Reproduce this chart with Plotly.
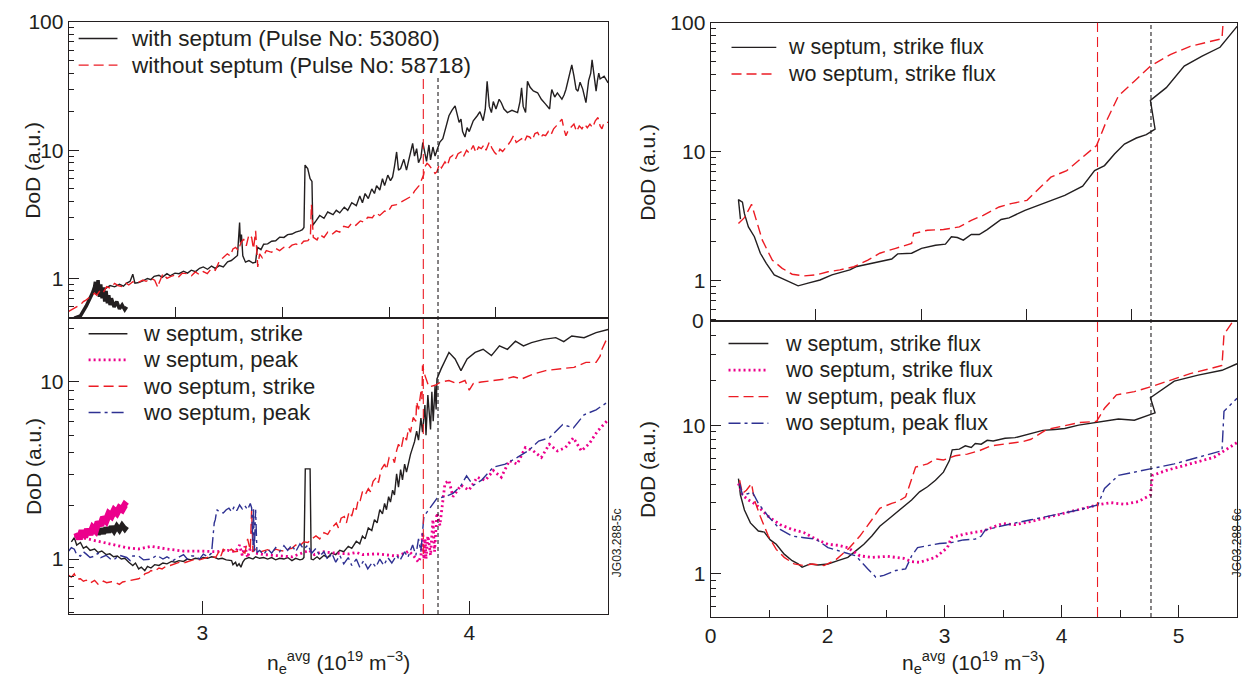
import numpy as np
import plotly.graph_objects as go

# ---------------------------------------------------------------
# DATA
# ---------------------------------------------------------------
# top-left : DoD vs <ne>, pulse 53080 (with septum) / 58718 (without)
tl_w_blob_x = [2.521, 2.544, 2.566, 2.580, 2.589, 2.597, 2.600, 2.605, 2.610, 2.615, 2.620, 2.625,
               2.630, 2.635, 2.640, 2.645, 2.650, 2.655, 2.660, 2.670, 2.680, 2.690, 2.700, 2.710, 2.717]
tl_w_blob_y = [0.49, 0.51, 0.61, 0.70, 0.77, 0.86, 0.94, 0.75, 0.97, 0.72, 0.90, 0.70,
               0.85, 0.66, 0.80, 0.64, 0.74, 0.62, 0.70, 0.60, 0.66, 0.58, 0.62, 0.57, 0.60]
tl_w_x = [2.624, 2.640, 2.655, 2.672, 2.690, 2.705, 2.717, 2.730, 2.740, 2.748, 2.762, 2.780, 2.795,
          2.808, 2.820, 2.838, 2.850, 2.868, 2.880, 2.898, 2.913, 2.930, 2.945, 2.959, 2.975, 2.990,
          3.004, 3.020, 3.035, 3.049, 3.064, 3.079, 3.095, 3.109, 3.120, 3.132, 3.140, 3.143, 3.147,
          3.152, 3.162, 3.175, 3.190, 3.200, 3.204, 3.208, 3.220, 3.230, 3.245, 3.260, 3.275, 3.290,
          3.306, 3.320, 3.336, 3.350, 3.366, 3.375, 3.381, 3.385, 3.395, 3.404, 3.411, 3.414, 3.426,
          3.440, 3.456, 3.470, 3.490, 3.502, 3.515, 3.532, 3.545, 3.560, 3.577, 3.590, 3.600, 3.610,
          3.622, 3.635, 3.645, 3.653, 3.665, 3.675, 3.683, 3.695, 3.705, 3.713, 3.720, 3.728, 3.735,
          3.743, 3.755, 3.765, 3.773, 3.788, 3.795, 3.803, 3.810, 3.819, 3.826, 3.834, 3.840, 3.849,
          3.855, 3.864, 3.872, 3.879, 3.890, 3.901, 3.912, 3.924, 3.935, 3.947, 3.955, 3.962, 3.969,
          3.975, 3.984, 3.992, 4.000, 4.015, 4.030, 4.040, 4.052, 4.060, 4.067, 4.075, 4.083, 4.090,
          4.100, 4.112, 4.120, 4.130, 4.143, 4.160, 4.181, 4.190, 4.196, 4.202, 4.211, 4.218, 4.228,
          4.240, 4.256, 4.270, 4.285, 4.301, 4.305, 4.309, 4.320, 4.330, 4.347, 4.355, 4.362, 4.370,
          4.378, 4.384, 4.392, 4.400, 4.407, 4.415, 4.425, 4.437, 4.447, 4.455, 4.460, 4.468, 4.475,
          4.480, 4.485, 4.490, 4.505, 4.520]
tl_w_y = [0.80, 0.84, 0.88, 0.86, 0.90, 0.87, 0.92, 0.95, 1.08, 0.92, 0.93, 0.96, 1.00,
          0.98, 1.04, 1.06, 1.02, 1.09, 1.05, 1.10, 1.09, 1.14, 1.10, 1.16, 1.13, 1.20,
          1.23, 1.18, 1.25, 1.20, 1.26, 1.23, 1.35, 1.38, 1.45, 1.51, 2.73, 1.90, 2.20,
          1.50, 1.34, 1.38, 1.32, 1.34, 1.60, 1.75, 1.68, 1.85, 1.86, 1.95, 1.97, 2.10,
          2.09, 2.20, 2.22, 2.30, 2.35, 2.40, 2.50, 7.67, 7.20, 6.00, 5.71, 2.60, 2.81,
          3.10, 2.95, 3.30, 3.15, 3.40, 3.25, 3.60, 3.40, 3.90, 3.70, 4.40, 3.90, 4.60,
          4.20, 5.00, 4.60, 5.30, 4.90, 6.00, 5.30, 6.40, 5.80, 6.20, 7.50, 9.70, 7.00,
          7.20, 8.50, 7.00, 8.30, 11.3, 9.00, 10.3, 8.00, 8.80, 11.5, 9.20, 8.20, 11.0,
          8.40, 10.6, 9.00, 10.0, 11.6, 12.3, 15.0, 18.6, 20.5, 22.2, 19.0, 16.5, 17.5,
          14.0, 12.7, 15.0, 14.0, 17.0, 18.6, 20.0, 17.0, 20.9, 34.5, 22.0, 19.7, 24.0,
          21.0, 25.0, 23.5, 21.0, 19.7, 20.5, 19.7, 24.0, 30.7, 22.0, 19.7, 34.5, 31.0,
          29.0, 28.1, 25.0, 23.0, 21.0, 26.0, 29.8, 26.0, 28.0, 25.0, 27.0, 29.8, 35.0,
          40.0, 46.4, 38.0, 30.0, 28.9, 34.0, 30.0, 23.5, 35.0, 40.0, 50.7, 38.0, 28.9,
          35.0, 40.0, 36.0, 37.8, 33.5]
tl_wo_x = [2.500, 2.511, 2.521, 2.530, 2.544, 2.555, 2.566, 2.580, 2.597, 2.605, 2.619, 2.630, 2.642,
           2.655, 2.672, 2.685, 2.702, 2.715, 2.725, 2.740, 2.755, 2.778, 2.790, 2.808, 2.822, 2.834,
           2.838, 2.853, 2.868, 2.883, 2.898, 2.910, 2.925, 2.944, 2.960, 2.974, 2.990, 3.004, 3.019,
           3.035, 3.049, 3.060, 3.064, 3.078, 3.094, 3.105, 3.115, 3.125, 3.135, 3.145, 3.155, 3.165,
           3.175, 3.185, 3.192, 3.200, 3.205, 3.208, 3.215, 3.225, 3.240, 3.260, 3.275, 3.290, 3.306,
           3.320, 3.336, 3.351, 3.365, 3.380, 3.396, 3.405, 3.409, 3.413, 3.416, 3.430, 3.440, 3.456,
           3.470, 3.485, 3.502, 3.515, 3.530, 3.547, 3.560, 3.575, 3.592, 3.605, 3.620, 3.637, 3.650,
           3.665, 3.683, 3.695, 3.710, 3.728, 3.740, 3.755, 3.773, 3.785, 3.795, 3.803, 3.812, 3.819,
           3.825, 3.829, 3.834, 3.842, 3.849, 3.860, 3.872, 3.879, 3.888, 3.896, 3.909, 3.918, 3.928,
           3.939, 3.948, 3.958, 3.969, 3.978, 3.990, 4.000, 4.015, 4.025, 4.035, 4.045, 4.055, 4.063,
           4.075, 4.085, 4.095, 4.105, 4.115, 4.125, 4.135, 4.145, 4.155, 4.166, 4.176, 4.186, 4.196,
           4.206, 4.216, 4.226, 4.236, 4.246, 4.256, 4.266, 4.276, 4.286, 4.296, 4.306, 4.316, 4.326,
           4.338, 4.347, 4.355, 4.362, 4.372, 4.382, 4.392, 4.402, 4.412, 4.422, 4.432, 4.442, 4.452,
           4.462, 4.472, 4.482, 4.490, 4.497, 4.505, 4.520]
tl_wo_y = [0.554, 0.57, 0.588, 0.60, 0.624, 0.66, 0.681, 0.72, 0.767, 0.74, 0.813, 0.78, 0.863,
           0.84, 0.916, 0.88, 0.863, 0.92, 0.89, 0.943, 0.92, 0.971, 0.95, 1.00, 0.97, 0.85,
           0.916, 1.09, 1.00, 1.04, 1.06, 1.02, 1.10, 1.09, 1.05, 1.125, 1.07, 1.13, 1.09,
           1.20, 1.16, 1.30, 1.38, 1.45, 1.557, 1.50, 1.70, 1.75, 1.65, 1.90, 2.03, 1.80,
           2.20, 2.09, 1.70, 2.35, 1.50, 1.23, 1.557, 1.45, 1.65, 1.60, 1.72, 1.65, 1.75,
           1.70, 1.82, 1.86, 1.80, 1.95, 1.97, 2.10, 3.77, 2.40, 2.09, 2.00, 2.20, 2.09,
           2.30, 2.20, 2.35, 2.30, 2.55, 2.50, 2.70, 2.60, 2.81, 2.75, 3.00, 2.98, 3.25,
           3.10, 3.36, 3.30, 3.70, 3.77, 3.90, 4.10, 4.25, 4.40, 4.80, 5.07, 5.30, 5.71,
           6.20, 6.42, 7.44, 7.90, 7.67, 7.20, 6.60, 6.81, 7.80, 7.30, 8.13, 7.60, 8.80,
           9.15, 8.50, 9.40, 9.71, 8.90, 10.0, 9.50, 10.9, 9.60, 10.6, 10.3, 11.0, 10.0,
           11.6, 10.4, 9.60, 9.15, 10.2, 9.80, 10.3, 11.0, 11.8, 13.0, 11.5, 12.0, 12.3,
           11.6, 12.9, 12.7, 12.0, 13.5, 13.8, 12.5, 13.2, 13.0, 14.0, 13.2, 14.7, 15.5,
           16.5, 17.5, 14.5, 13.0, 14.5, 15.3, 16.0, 14.0, 15.5, 14.7, 16.0, 15.0, 16.0,
           15.0, 17.0, 18.0, 15.5, 14.7, 16.5, 16.5]

# bottom-left : strike / peak, with and without septum
bl_ws_x = [2.510, 2.521, 2.530, 2.544, 2.555, 2.566, 2.580, 2.597, 2.610, 2.624, 2.640, 2.654, 2.668,
           2.682, 2.697, 2.710, 2.725, 2.740, 2.750, 2.762, 2.772, 2.785, 2.795, 2.808, 2.822, 2.838,
           2.853, 2.868, 2.885, 2.898, 2.913, 2.930, 2.944, 2.959, 2.974, 2.990, 3.004, 3.020, 3.035,
           3.049, 3.060, 3.075, 3.090, 3.110, 3.115, 3.125, 3.130, 3.138, 3.145, 3.152, 3.160, 3.175,
           3.190, 3.200, 3.215, 3.230, 3.245, 3.260, 3.275, 3.290, 3.306, 3.320, 3.336, 3.350, 3.366,
           3.376, 3.381, 3.386, 3.404, 3.408, 3.416, 3.430, 3.440, 3.456, 3.470, 3.485, 3.500, 3.515,
           3.530, 3.547, 3.560, 3.577, 3.590, 3.600, 3.610, 3.622, 3.635, 3.645, 3.655, 3.665, 3.675,
           3.683, 3.690, 3.698, 3.705, 3.713, 3.720, 3.728, 3.735, 3.743, 3.750, 3.758, 3.765, 3.773,
           3.780, 3.788, 3.795, 3.803, 3.810, 3.819, 3.825, 3.834, 3.838, 3.845, 3.849, 3.855, 3.860,
           3.865, 3.872, 3.876, 3.879, 3.895, 3.924, 3.947, 3.969, 3.992, 4.022, 4.052, 4.083, 4.113,
           4.143, 4.173, 4.203, 4.233, 4.279, 4.324, 4.354, 4.384, 4.430, 4.475, 4.520]
bl_ws_y = [1.25, 1.32, 1.20, 1.24, 1.15, 1.18, 1.12, 1.14, 1.09, 1.11, 1.06, 1.07, 1.03,
           1.04, 1.00, 1.01, 0.96, 0.92, 0.95, 0.88, 0.90, 0.86, 0.91, 0.89, 0.93, 0.92,
           0.95, 0.94, 0.97, 0.96, 0.98, 0.97, 1.00, 0.99, 1.01, 1.00, 1.02, 1.01, 1.03,
           1.02, 1.00, 1.01, 0.99, 0.98, 0.93, 0.96, 0.91, 0.94, 0.90, 0.96, 1.00, 1.02,
           1.00, 1.03, 1.01, 1.02, 1.00, 1.02, 0.99, 1.01, 1.00, 1.02, 0.98, 1.01, 0.99,
           1.00, 1.02, 3.23, 3.23, 1.00, 0.99, 1.03, 1.00, 1.05, 1.02, 1.08, 1.06, 1.12,
           1.10, 1.18, 1.15, 1.26, 1.22, 1.35, 1.30, 1.50, 1.45, 1.67, 1.60, 1.90, 1.80,
           2.06, 1.90, 2.25, 2.10, 2.45, 2.30, 3.03, 2.55, 3.20, 2.80, 3.44, 3.10, 3.59,
           3.90, 4.26, 4.60, 5.27, 4.70, 6.25, 5.20, 7.42, 5.00, 8.43, 6.81, 5.40, 8.80,
           6.00, 9.50, 7.00, 10.4, 11.9, 14.7, 13.5, 11.6, 13.5, 14.7, 15.3, 14.1, 16.0,
           15.3, 17.0, 16.0, 16.7, 17.4, 17.8, 16.9, 18.2, 17.8, 19.0, 19.8]
bl_ws_blob_x = [2.604, 2.610, 2.620, 2.630, 2.640, 2.650, 2.660, 2.670, 2.680, 2.690, 2.700, 2.710, 2.717]
bl_ws_blob_y = [1.45, 1.38, 1.48, 1.40, 1.50, 1.42, 1.52, 1.44, 1.53, 1.46, 1.55, 1.48, 1.53]

bl_wp_blob_x = [2.530, 2.540, 2.550, 2.560, 2.570, 2.580, 2.590, 2.600, 2.610, 2.620, 2.630, 2.640,
                2.650, 2.660, 2.670, 2.680, 2.690, 2.700, 2.710, 2.717]
bl_wp_blob_y = [1.41, 1.30, 1.45, 1.33, 1.47, 1.38, 1.50, 1.45, 1.62, 1.55, 1.72, 1.65,
                1.80, 1.75, 1.88, 1.82, 1.94, 1.90, 2.02, 1.98]
bl_wp_x = [2.521, 2.550, 2.600, 2.640, 2.672, 2.717, 2.762, 2.808, 2.868, 2.930, 2.990, 3.050, 3.095,
           3.125, 3.140, 3.150, 3.160, 3.170, 3.180, 3.200, 3.230, 3.275, 3.336, 3.366, 3.400, 3.420,
           3.450, 3.500, 3.550, 3.577, 3.600, 3.653, 3.700, 3.728, 3.760, 3.773, 3.790, 3.810, 3.819,
           3.826, 3.830, 3.835, 3.838, 3.845, 3.849, 3.855, 3.864, 3.870, 3.879, 3.890, 3.909, 3.924,
           3.939, 3.969, 3.999, 4.030, 4.060, 4.090, 4.120, 4.150, 4.180, 4.210, 4.240, 4.270, 4.300,
           4.330, 4.360, 4.390, 4.420, 4.450, 4.480, 4.520]
bl_wp_y = [1.35, 1.32, 1.27, 1.24, 1.21, 1.16, 1.14, 1.18, 1.14, 1.11, 1.11, 1.10, 1.12,
           1.10, 1.20, 1.05, 1.18, 1.02, 1.15, 1.08, 1.06, 1.05, 1.03, 1.07, 1.12, 1.06,
           1.10, 1.08, 1.07, 1.09, 1.06, 1.07, 1.05, 1.04, 1.08, 1.11, 1.05, 0.96, 1.04,
           1.41, 1.00, 1.30, 1.00, 1.35, 1.24, 1.05, 1.67, 1.10, 1.82, 1.55, 2.67, 2.78,
           2.25, 2.61, 2.45, 2.90, 2.78, 3.16, 2.90, 3.59, 3.44, 4.26, 4.08, 3.75, 4.45,
           4.08, 4.26, 4.84, 4.08, 4.50, 5.27, 6.12]

bl_wos_x = [2.500, 2.510, 2.521, 2.530, 2.544, 2.555, 2.566, 2.580, 2.597, 2.610, 2.619, 2.630, 2.642,
            2.660, 2.672, 2.690, 2.702, 2.720, 2.740, 2.755, 2.762, 2.780, 2.785, 2.800, 2.808, 2.820,
            2.838, 2.850, 2.868, 2.880, 2.913, 2.930, 2.974, 2.990, 3.035, 3.050, 3.064, 3.070, 3.079,
            3.095, 3.109, 3.120, 3.140, 3.160, 3.170, 3.180, 3.185, 3.190, 3.200, 3.220, 3.245, 3.260,
            3.275, 3.290, 3.306, 3.320, 3.336, 3.350, 3.366, 3.380, 3.396, 3.410, 3.426, 3.440, 3.456,
            3.470, 3.485, 3.502, 3.510, 3.520, 3.532, 3.540, 3.550, 3.560, 3.570, 3.577, 3.585, 3.592,
            3.600, 3.610, 3.622, 3.630, 3.640, 3.653, 3.660, 3.670, 3.683, 3.690, 3.700, 3.713, 3.720,
            3.728, 3.735, 3.745, 3.755, 3.765, 3.773, 3.780, 3.790, 3.800, 3.803, 3.810, 3.819, 3.823,
            3.825, 3.834, 3.849, 3.872, 3.894, 3.924, 3.954, 3.984, 4.000, 4.015, 4.045, 4.090, 4.135,
            4.166, 4.196, 4.241, 4.286, 4.347, 4.392, 4.437, 4.475, 4.490, 4.497, 4.520]
bl_wos_y = [0.808, 0.79, 0.825, 0.77, 0.774, 0.75, 0.76, 0.73, 0.758, 0.72, 0.726, 0.75, 0.735,
            0.745, 0.742, 0.72, 0.742, 0.75, 0.758, 0.77, 0.774, 0.80, 0.825, 0.84, 0.861, 0.85,
            0.89, 0.88, 0.918, 0.92, 0.958, 0.95, 1.00, 0.99, 1.04, 1.02, 1.11, 1.04, 1.137,
            1.10, 1.137, 1.10, 1.11, 1.08, 1.30, 1.12, 1.90, 1.10, 1.137, 1.10, 1.13, 1.10,
            1.137, 1.12, 1.11, 1.14, 1.15, 1.20, 1.186, 1.25, 1.24, 1.30, 1.35, 1.30, 1.41,
            1.38, 1.50, 1.60, 1.50, 1.70, 1.74, 1.60, 1.85, 1.75, 2.00, 1.90, 2.20, 2.15,
            2.40, 2.30, 2.50, 2.40, 2.75, 2.90, 2.70, 3.20, 3.44, 3.20, 3.75, 3.75, 3.50,
            4.10, 4.45, 4.20, 5.00, 4.70, 5.51, 5.20, 6.30, 6.00, 7.74, 7.00, 8.80, 8.00,
            12.4, 10.9, 9.38, 9.58, 10.0, 10.2, 9.79, 10.2, 9.00, 9.79, 10.0, 10.2, 10.4,
            10.7, 10.4, 11.1, 11.6, 11.9, 12.1, 12.9, 12.9, 14.0, 15.3, 18.2]

bl_wop_x = [2.500, 2.510, 2.521, 2.530, 2.544, 2.555, 2.566, 2.580, 2.597, 2.610, 2.620, 2.640, 2.660,
            2.672, 2.690, 2.717, 2.730, 2.740, 2.762, 2.780, 2.808, 2.830, 2.853, 2.868, 2.890, 2.913,
            2.930, 2.944, 2.960, 2.974, 2.990, 3.004, 3.020, 3.035, 3.040, 3.045, 3.049, 3.055, 3.064,
            3.079, 3.090, 3.100, 3.110, 3.120, 3.130, 3.140, 3.150, 3.160, 3.170, 3.180, 3.185, 3.190,
            3.192, 3.195, 3.200, 3.205, 3.215, 3.230, 3.245, 3.260, 3.275, 3.290, 3.306, 3.320, 3.336,
            3.350, 3.366, 3.380, 3.396, 3.410, 3.426, 3.440, 3.456, 3.470, 3.485, 3.500, 3.515, 3.530,
            3.547, 3.560, 3.577, 3.590, 3.605, 3.620, 3.637, 3.650, 3.665, 3.680, 3.695, 3.710, 3.728,
            3.740, 3.758, 3.770, 3.788, 3.800, 3.810, 3.819, 3.830, 3.849, 3.879, 3.909, 3.939, 3.969,
            3.990, 4.015, 4.045, 4.090, 4.135, 4.180, 4.220, 4.260, 4.300, 4.350, 4.390, 4.430, 4.475,
            4.520]
bl_wop_y = [1.11, 1.16, 1.137, 1.06, 1.04, 1.10, 1.066, 1.02, 1.04, 1.08, 1.02, 1.05, 0.99,
            1.00, 1.05, 1.021, 0.98, 1.04, 1.04, 0.99, 1.00, 1.05, 1.00, 1.03, 0.98, 1.02,
            1.06, 1.00, 1.04, 1.04, 1.00, 1.066, 1.03, 1.08, 1.35, 1.60, 1.67, 1.90, 1.85,
            1.82, 1.90, 1.94, 1.85, 1.98, 1.88, 2.02, 1.92, 2.00, 1.90, 2.06, 1.95, 1.20,
            1.95, 1.10, 1.90, 1.09, 1.12, 1.06, 1.14, 1.08, 1.16, 1.10, 1.19, 1.12, 1.20,
            1.10, 1.22, 1.14, 1.20, 1.08, 1.15, 1.04, 1.10, 0.99, 1.08, 0.96, 1.05, 0.94,
            1.02, 0.92, 1.00, 0.90, 0.98, 0.88, 0.96, 0.90, 1.00, 0.92, 1.02, 0.95, 1.05,
            0.98, 1.10, 1.02, 1.20, 1.05, 1.30, 1.10, 1.74, 1.90, 2.20, 2.25, 2.35, 2.60,
            2.95, 2.61, 2.78, 3.30, 3.44, 3.75, 4.08, 4.64, 4.84, 5.75, 5.51, 6.53, 6.96,
            7.74]

# top-right : strike flux
tr_w_x = [1.255, 1.238, 1.272, 1.289, 1.323, 1.374, 1.425, 1.476, 1.544, 1.612, 1.680, 1.748, 1.833,
          1.935, 2.037, 2.139, 2.190, 2.241, 2.378, 2.548, 2.599, 2.718, 2.803, 2.922, 3.007, 3.058,
          3.109, 3.160, 3.228, 3.296, 3.364, 3.483, 3.551, 3.687, 3.874, 4.027, 4.180, 4.282, 4.367,
          4.452, 4.537, 4.639, 4.724, 4.799, 4.759, 4.895, 5.048, 5.201, 5.354, 5.500]
tr_w_y = [3.00, 4.25, 4.07, 3.31, 2.61, 2.19, 1.63, 1.36, 1.106, 1.04, 0.982, 0.91, 0.954,
          1.01, 1.106, 1.17, 1.21, 1.28, 1.36, 1.47, 1.61, 1.63, 1.78, 1.88, 1.92, 2.19,
          2.16, 2.06, 2.28, 2.28, 2.49, 2.98, 3.07, 3.51, 4.07, 4.59, 5.41, 7.15, 7.82,
          9.62, 11.5, 12.8, 13.6, 15.0, 25.1, 31.5, 46.3, 55.3, 64.9, 94.3]
tr_wo_x = [1.238, 1.289, 1.350, 1.391, 1.442, 1.527, 1.612, 1.697, 1.799, 1.901, 2.003, 2.105, 2.224,
           2.344, 2.446, 2.582, 2.718, 2.735, 2.854, 2.990, 3.126, 3.228, 3.330, 3.466, 3.568, 3.704,
           3.806, 3.908, 4.044, 4.180, 4.299, 4.384, 4.486, 4.622, 4.759, 4.929, 5.099, 5.371, 5.381]
tr_wo_y = [2.77, 3.08, 3.91, 2.94, 2.06, 1.44, 1.245, 1.12, 1.087, 1.106, 1.17, 1.21, 1.28,
           1.44, 1.63, 1.78, 1.94, 2.32, 2.46, 2.49, 2.61, 2.94, 3.21, 3.73, 3.96, 4.20,
           5.16, 6.35, 7.15, 9.07, 11.2, 17.4, 27.2, 35.4, 46.3, 56.9, 66.0, 75.7, 103.0]

# bottom-right : strike / peak flux
br_ws_x = [1.238, 1.255, 1.289, 1.340, 1.408, 1.459, 1.510, 1.561, 1.629, 1.697, 1.748, 1.782, 1.816,
           1.850, 1.918, 2.003, 2.088, 2.173, 2.241, 2.310, 2.378, 2.446, 2.514, 2.582, 2.650, 2.718,
           2.786, 2.854, 2.922, 2.990, 3.041, 3.065, 3.126, 3.177, 3.228, 3.262, 3.313, 3.364, 3.415,
           3.517, 3.602, 3.704, 3.840, 3.942, 4.027, 4.146, 4.282, 4.418, 4.486, 4.622, 4.724, 4.799,
           4.759, 4.963, 5.167, 5.371, 5.500]
br_ws_y = [4.37, 3.39, 2.69, 2.20, 1.94, 1.91, 1.69, 1.58, 1.356, 1.225, 1.165, 1.107, 1.135,
           1.165, 1.147, 1.165, 1.225, 1.29, 1.427, 1.58, 1.795, 2.09, 2.31, 2.56, 2.84, 3.14,
           3.56, 3.85, 4.26, 4.83, 5.78, 6.83, 6.90, 7.26, 7.08, 7.52, 7.45, 7.91, 7.83,
           8.16, 8.24, 8.67, 9.22, 9.36, 9.50, 10.0, 10.4, 10.7, 11.0, 10.8, 11.5, 12.1,
           15.3, 19.8, 21.7, 23.4, 25.9]
br_wos_x = [1.238, 1.272, 1.323, 1.391, 1.493, 1.595, 1.697, 1.799, 1.901, 2.003, 2.088, 2.173, 2.276,
            2.378, 2.514, 2.650, 2.718, 2.786, 2.922, 3.024, 3.058, 3.160, 3.262, 3.330, 3.398, 3.500,
            3.602, 3.738, 3.908, 4.078, 4.310, 4.418, 4.537, 4.656, 4.759, 4.776, 4.895, 5.099, 5.303,
            5.500]
br_wos_y = [4.05, 3.39, 3.14, 2.91, 2.43, 2.14, 1.99, 1.89, 1.71, 1.58, 1.556, 1.50, 1.32,
            1.29, 1.31, 1.27, 1.207, 1.195, 1.29, 1.50, 1.75, 1.84, 1.91, 1.94, 2.04, 2.18,
            2.14, 2.25, 2.43, 2.63, 2.91, 3.01, 2.94, 3.06, 3.39, 4.59, 4.96, 5.49, 6.08,
            7.64]
br_wp_x = [1.248, 1.272, 1.306, 1.350, 1.374, 1.425, 1.493, 1.561, 1.629, 1.714, 1.799, 1.867, 1.969,
           2.071, 2.173, 2.276, 2.378, 2.446, 2.548, 2.599, 2.667, 2.718, 2.752, 2.854, 2.922, 2.990,
           3.092, 3.194, 3.296, 3.398, 3.534, 3.670, 3.738, 3.874, 4.010, 4.146, 4.299, 4.367, 4.469,
           4.622, 4.759, 4.895, 5.099, 5.371, 5.388, 5.500]
br_wp_y = [4.26, 3.47, 3.65, 4.05, 3.14, 2.43, 1.795, 1.46, 1.29, 1.165, 1.135, 1.165, 1.135,
           1.244, 1.46, 1.795, 2.31, 2.76, 2.98, 3.06, 3.30, 4.26, 5.22, 5.49, 5.93, 5.83,
           6.23, 6.39, 6.73, 7.26, 7.52, 7.76, 8.04, 9.36, 9.85, 10.4, 10.6, 13.0, 16.0,
           16.8, 18.1, 19.6, 22.2, 25.2, 40.8, 55.0]
br_wop_x = [1.248, 1.272, 1.323, 1.357, 1.408, 1.493, 1.595, 1.697, 1.799, 1.901, 2.003, 2.105, 2.241,
            2.344, 2.412, 2.480, 2.582, 2.667, 2.718, 2.769, 2.854, 2.956, 3.058, 3.160, 3.262, 3.313,
            3.347, 3.534, 3.738, 3.942, 4.146, 4.310, 4.367, 4.486, 4.759, 4.963, 5.167, 5.371, 5.388,
            5.500]
br_wop_y = [4.05, 3.39, 3.47, 3.56, 2.98, 2.43, 1.99, 1.795, 1.75, 1.71, 1.50, 1.427, 1.32,
            1.079, 0.95, 0.975, 1.052, 1.079, 1.32, 1.50, 1.54, 1.60, 1.62, 1.69, 1.71, 1.795,
            1.97, 2.14, 2.31, 2.50, 2.69, 2.91, 3.75, 4.59, 5.09, 5.49, 6.08, 6.73, 12.4,
            15.2]

# vertical markers (red = without septum, black = with septum)
left_marks = [3.828, 3.883]
right_marks = [4.307, 4.764]

# legend entries per panel
tl_labels = ["with septum (Pulse No: 53080)", "without septum (Pulse No: 58718)"]
bl_labels = ["w septum, strike", "w septum, peak", "wo septum, strike", "wo septum, peak"]
tr_labels = ["w septum, strike flux", "wo septum, strike flux"]
br_labels = ["w septum, strike flux", "wo septum, strike flux", "w septum, peak flux", "wo septum, peak flux"]

# ---------------------------------------------------------------
# STYLE
# ---------------------------------------------------------------
FONT = "Liberation Sans, Arial, Helvetica, sans-serif"
INK = "#231f20"
RED = "#ec1c24"
PINK = "#ec008c"
BLUE = "#2e3192"
DASH = "10px,5px"
DASHDOT = "12px,4px,3px,4px"
DOT = "2px,3px"

S_BLACK = dict(color=INK, dash="solid", width=1.4)
S_RED = dict(color=RED, dash=DASH, width=1.4)
S_PINK = dict(color=PINK, dash=DOT, width=2.8)
S_BLUE = dict(color=BLUE, dash=DASHDOT, width=1.4)

W, H = 1256, 679
LX = [63 / W, 605 / W]
RX = [708 / W, 1237 / W]
TL_Y = [1 - 312 / H, 1 - 11 / H]
BL_Y = [1 - 613 / H, 1 - 312 / H]
TR_Y = [1 - 315 / H, 1 - 12 / H]
BR_Y = [1 - 616 / H, 1 - 315 / H]

fig = go.Figure()


def line(x, y, ax, style, width=None):
    st = dict(style)
    if width:
        st["width"] = width
        st["dash"] = "solid"
    fig.add_trace(go.Scatter(x=x, y=y, mode="lines", xaxis="x" + ax, yaxis="y" + ax,
                             line=st, showlegend=False, hoverinfo="skip"))


# top-left
line(tl_w_x, tl_w_y, "", S_BLACK)
line(tl_w_blob_x, tl_w_blob_y, "", S_BLACK, width=3.5)
line(tl_wo_x, tl_wo_y, "", S_RED)

# bottom-left
line(bl_ws_x, bl_ws_y, "2", S_BLACK)
line(bl_ws_blob_x, bl_ws_blob_y, "2", S_BLACK, width=5.5)
line(bl_wp_x, bl_wp_y, "2", S_PINK)
line(bl_wp_blob_x, bl_wp_blob_y, "2", S_PINK, width=7)
line(bl_wos_x, bl_wos_y, "2", S_RED)
line(bl_wop_x, bl_wop_y, "2", S_BLUE)

# top-right
line(tr_w_x, tr_w_y, "3", S_BLACK)
line(tr_wo_x, tr_wo_y, "3", S_RED)

# bottom-right
line(br_ws_x, br_ws_y, "4", S_BLACK)
line(br_wos_x, br_wos_y, "4", S_PINK)
line(br_wp_x, br_wp_y, "4", S_RED)
line(br_wop_x, br_wop_y, "4", S_BLUE)

# vertical markers
for xs, ax, y0, y1 in [(left_marks, "x", BL_Y[0], 1 - 67 / H), (right_marks, "x3", BR_Y[0], TR_Y[1])]:
    for xv, col, dsh in zip(xs, [RED, INK], [DASH, "4px,3px"]):
        fig.add_shape(type="line", xref=ax, yref="paper", x0=xv, x1=xv, y0=y0, y1=y1,
                      line=dict(color=col, width=1.1, dash=dsh), layer="above")

# hand-placed legends (sample line + label), positions in pixels
legends = [
    (tl_labels, [S_BLACK, S_RED], 73, 112, 124, 28, 27, 22.5),
    (bl_labels, [S_BLACK, S_PINK, S_RED, S_BLUE], 83, 122, 136, 328, 26.7, 22),
    (tr_labels, [S_BLACK, S_RED], 729, 774, 784, 37, 27, 21.5),
    (br_labels, [S_BLACK, S_PINK, S_RED, S_BLUE], 726, 766, 781, 338, 27, 21.5),
]
for labels, styles, lx0, lx1, tx, row0, step, fs in legends:
    for i, (lab, st) in enumerate(zip(labels, styles)):
        yy = 1 - (row0 + i * step) / H
        fig.add_shape(type="line", xref="paper", yref="paper", x0=lx0 / W, x1=lx1 / W, y0=yy, y1=yy,
                      line=dict(color=st["color"], dash=st["dash"], width=st["width"]))
        fig.add_annotation(text=lab, xref="paper", yref="paper", x=tx / W, y=yy, xanchor="left",
                           yanchor="middle", showarrow=False,
                           font=dict(family=FONT, size=fs, color=INK))

# ---------------------------------------------------------------
# AXES
# ---------------------------------------------------------------
def minors(lo, hi):
    vals = []
    for dec in [0.1, 1, 10, 100]:
        for m in range(2, 10):
            v = m * dec
            if lo < v < hi:
                vals.append(v)
    return vals


def xaxis(domain, anchor, rng, tickvals, ticktext, ticklen, minor_vals=None):
    d = dict(domain=domain, anchor=anchor, range=rng, showline=True, linecolor=INK, linewidth=1,
             mirror=True, ticks="inside", ticklen=ticklen, tickwidth=1, tickcolor=INK,
             tickmode="array", tickvals=tickvals, ticktext=ticktext, showgrid=False, zeroline=False,
             ticklabeloverflow="allow", tickfont=dict(family=FONT, size=21, color=INK))
    if minor_vals:
        d["minor"] = dict(tickmode="array", tickvals=minor_vals, ticks="inside", ticklen=7,
                          tickwidth=1, tickcolor=INK)
    return d


def yaxis(domain, anchor, lo, hi, tickvals, ticktext):
    return dict(domain=domain, anchor=anchor, type="log", range=[np.log10(lo), np.log10(hi)],
                showline=True, linecolor=INK, linewidth=1, mirror=True, ticks="inside",
                ticklen=10, tickwidth=1, tickcolor=INK, tickmode="array", tickvals=tickvals,
                ticktext=ticktext, showgrid=False, zeroline=False, ticklabeloverflow="allow",
                tickfont=dict(family=FONT, size=21, color=INK),
                minor=dict(tickmode="array", tickvals=minors(lo, hi), ticks="inside", ticklen=5,
                           tickwidth=1, tickcolor=INK))


fig.update_layout(
    width=W, height=H,
    margin=dict(l=0, r=0, t=0, b=0),
    paper_bgcolor="white", plot_bgcolor="white",
    font=dict(family=FONT, color=INK),
    hovermode=False, showlegend=False,
    xaxis=xaxis(LX, "y", [2.5, 4.52], [2.9, 3.3, 3.7, 4.1], ["", "", "", ""], 11),
    yaxis=yaxis(TL_Y, "x", 0.492, 100.5, [1, 10, 100], ["1", "10", "100"]),
    xaxis2=xaxis(LX, "y2", [2.5, 4.52], [3, 4], ["3", "4"], 13),
    yaxis2=yaxis(BL_Y, "x2", 0.489, 23, [1, 10], ["1", "10"]),
    xaxis3=xaxis(RX, "y3", [1, 5.5], [1.9, 2.8, 3.7, 4.6], ["", "", "", ""], 12),
    yaxis3=yaxis(TR_Y, "x3", 0.486, 100.5, [1, 10, 100], ["1", "10", "100"]),
    xaxis4=xaxis(RX, "y4", [1, 5.5], [1, 2, 3, 4, 5], ["0", "2", "3", "4", "5"], 12,
                 minor_vals=[1.5, 2.5, 3.5, 4.5]),
    yaxis4=yaxis(BR_Y, "x4", 0.512, 50.3, [1, 10], ["1", "10"]),
)

xtitle = "n<sub>e</sub><sup>avg</sup> (10<sup>19</sup> m<sup>\u22123</sup>)"
ann = [
    dict(text="DoD (a.u.)", x=27 / W, y=(TL_Y[0] + TL_Y[1]) / 2, textangle=-90),
    dict(text="DoD (a.u.)", x=27 / W, y=(BL_Y[0] + BL_Y[1]) / 2, textangle=-90),
    dict(text="DoD (a.u.)", x=645 / W, y=(TR_Y[0] + TR_Y[1]) / 2, textangle=-90),
    dict(text="DoD (a.u.)", x=645 / W, y=(BR_Y[0] + BR_Y[1]) / 2, textangle=-90),
    dict(text=xtitle, x=(LX[0] + LX[1]) / 2, y=1 - 662 / H),
    dict(text=xtitle, x=(RX[0] + RX[1]) / 2, y=1 - 662 / H),
    dict(text="0", x=(RX[0] * W - 5) / W, y=BR_Y[1], xanchor="right"),
]
for a in ann:
    a.setdefault("xanchor", "center")
    fig.add_annotation(xref="paper", yref="paper", showarrow=False, yanchor="middle",
                       font=dict(family=FONT, size=21, color=INK), **a)

for txt, xp in [("JG03.288-5c", 614 / W), ("JG03.288-6c", 1246 / W)]:
    fig.add_annotation(text=txt, xref="paper", yref="paper", x=xp, y=1 - 578 / H, textangle=-90,
                       showarrow=False, font=dict(family=FONT, size=12, color=INK))

# pin the plot to the window corner (no default page margin)
pin = ("document.body.style.margin='0';"
       "var d=document.getElementById('{plot_id}');"
       "d.style.position='fixed';d.style.left='0px';d.style.top='0px';")
fig.write_html("out.html", config={"displayModeBar": False}, post_script=pin)
